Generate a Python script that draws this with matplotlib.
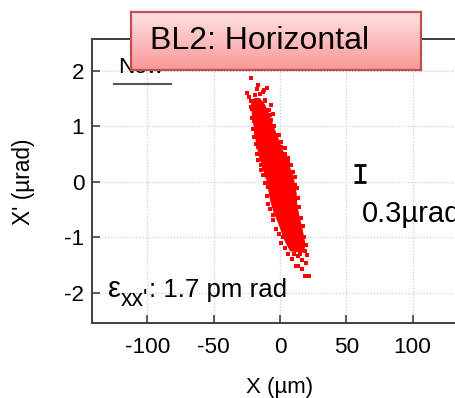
import matplotlib
matplotlib.use("Agg")
import matplotlib.pyplot as plt
import numpy as np

plt.rcParams['font.family'] = ['Liberation Sans', 'DejaVu Sans']

# ---- data ----
# dense core of the phase-space cloud: outline (X in um, X' in urad)
core_x = [-19.5, -21.5, -21, -19.5, -18, -16, -13, -10, -8.5, -7, -4.5, -1, 2, 4.5, 8,
          18, 18.5, 16.5, 14, 12.5, 12, 10.5, 8, 5, 2, -2, -6, -9, -12, -15.5]
core_y = [1.50, 1.40, 1.25, 1.0, 0.75, 0.5, 0.25, 0.05, -0.15, -0.35, -0.55, -0.75, -0.95, -1.1, -1.25,
          -1.27, -1.1, -0.85, -0.6, -0.4, -0.2, 0.0, 0.2, 0.4, 0.55, 0.8, 1.05, 1.25, 1.4, 1.5]
# sparse particles around the core
pts_x = [-21.9, -16.4, -9.6, -25.1, -23.4, -18.9, -15.1, -11.3, -20.9, -5.5, -7.5, -18.3,
         -13.0, -22.0, -17.5, -19.5, -16.8, -14.0, -4.0, 0.5, 3.5, 8.0, 11.3, -1.8,
         13.8, 20.1, 16.4, 19.6, 13.8, 12.6, 18.9, 22.1, 12.1, 10.5, 18.5, 15.0,
         -5.0, 2.5, 14.0, 12.5, -9.0, -10.0, 6.0, -20.0, -12.5, 10.0, 16.0, 7.5,
         -22.0, -21.5, -20.5, -19.5, -18.5, -17.5, -16.5, -14.5, -12.5, -11.5, -10.0,
         -9.0, -7.5, -5.5, -3.0, -0.5, 1.0, 3.5, 6.0,
         19.5, 18.0, 17.0, 15.5, 14.0, 13.5, 13.0, 11.5, 10.0, 8.5, 6.0, 3.5, 1.0,
         -1.0, -4.5, -7.0, -8.0, -11.0, -14.5, -17.0, -12.0, -6.5, 9.0, 16.5]
pts_y = [1.88, 1.75, 1.70, 1.60, 1.52, 1.56, 1.58, 1.47, 1.32, 1.22, 1.20, 0.87,
         1.62, 1.45, 1.68, 1.10, 0.62, 0.30, 0.85, 0.62, 0.50, 0.15, -0.06, -0.57,
         -1.35, -1.32, -1.41, -1.47, -1.52, -1.53, -1.71, -1.70, -1.53, -1.30, -1.25, -1.30,
         -0.60, -1.00, -0.95, -0.70, -0.10, 0.10, 0.35, 1.20, 0.95, -0.90, -1.15, -0.25,
         1.35, 1.15, 0.95, 0.80, 0.68, 0.50, 0.40, 0.22, 0.12, -0.02, -0.25,
         -0.40, -0.50, -0.70, -0.85, -0.95, -1.10, -1.20, -1.30,
         -1.15, -1.00, -0.80, -0.65, -0.45, -0.30, -0.12, 0.08, 0.18, 0.30, 0.42, 0.60, 0.72,
         0.85, 1.00, 1.12, 1.30, 1.45, 1.40, 1.35, 1.65, 1.38, -1.40, -1.58]
xticks = [-100, -50, 0, 50, 100]
yticks = [-2, -1, 0, 1, 2]
scale_x = 60
scale_lo, scale_hi = 0.0, 0.3

W, H = 456, 398
fig = plt.figure(figsize=(W / 100, H / 100), dpi=100)

def fx(px):
    return px / W

def fy(py):
    return 1 - py / H

ax = fig.add_axes([fx(92), fy(322.7), fx(479) - fx(92), fy(39.3) - fy(322.7)])
ax.set_xlim(-141.8, 150)
ax.set_ylim(-2.545, 2.57)

spc = '#404040'
for s in ['left', 'bottom', 'top']:
    ax.spines[s].set_color(spc)
    ax.spines[s].set_linewidth(1.4)
ax.spines['right'].set_visible(False)

ax.set_xticks(xticks)
ax.set_yticks(yticks)
ax.set_xticklabels([str(v) for v in xticks])
ax.set_yticklabels([str(v) for v in yticks])
ax.tick_params(direction='in', length=6, width=1.2, color=spc, labelsize=16.2,
               top=False, right=False)
ax.tick_params(axis='x', pad=10.5)
ax.tick_params(axis='y', pad=5.5)
ax.grid(True, color='#c8c8f0', linestyle=(0, (1, 1.5)), linewidth=0.9)
ax.set_axisbelow(True)

ax.fill(core_x, core_y, color='#ff0000', lw=0.8, ec='#ff0000', zorder=3)
ax.scatter(pts_x, pts_y, s=5, marker='s', color='#ff0000', linewidths=0, zorder=3)

# scale bar
ax.errorbar([scale_x], [(scale_lo + scale_hi) / 2], yerr=[[(scale_hi - scale_lo) / 2]],
            fmt='none', ecolor='black', elinewidth=2.0, capsize=4.5, capthick=2.0, zorder=4)
ax.text(62, -0.72, '0.3\u00b5rad', fontsize=21, ha='left', va='baseline', clip_on=False)

# emittance label
fig.text(fx(108), fy(297), '\u03b5', fontsize=21, ha='left', va='baseline')
fig.text(fx(121), fy(306), "xx'", fontsize=16.5, ha='left', va='baseline')
fig.text(fx(149), fy(297), ': 1.7 pm rad', fontsize=18.6, ha='left', va='baseline')

ax.text(-122.2, 1.96, 'Now', fontsize=16.2, ha='left', va='baseline')
ax.plot([-125.3, -82.3], [1.76, 1.76], color='#555555', lw=1.5)

fig.text(fx(279.5), fy(388), 'X (\u00b5m)', fontsize=16, ha='center', va='center')
fig.text(fx(24), fy(181.5), "X' (\u00b5rad)", fontsize=16.4, ha='center', va='center', rotation=90)

# title box with gradient
bx = fig.add_axes([fx(131), fy(70), fx(420.7) - fx(131), fy(11.7) - fy(70)], zorder=5)
top = np.array([255, 226, 226]) / 255
bot = np.array([250, 152, 152]) / 255
t = np.linspace(0, 1, 64)[:, None]
grad = top[None, :] * (1 - t) + bot[None, :] * t
bx.imshow(grad[:, None, :], aspect='auto', extent=[0, 1, 0, 1], origin='upper')
bx.set_xlim(0, 1)
bx.set_ylim(0, 1)
bx.set_xticks([])
bx.set_yticks([])
for s in bx.spines.values():
    s.set_color('#c0504d')
    s.set_linewidth(1.6)
fig.text(fx(150), fy(41), 'BL2: Horizontal', fontsize=23, ha='left', va='center', zorder=6)

fig.savefig('out.png', dpi=100)
